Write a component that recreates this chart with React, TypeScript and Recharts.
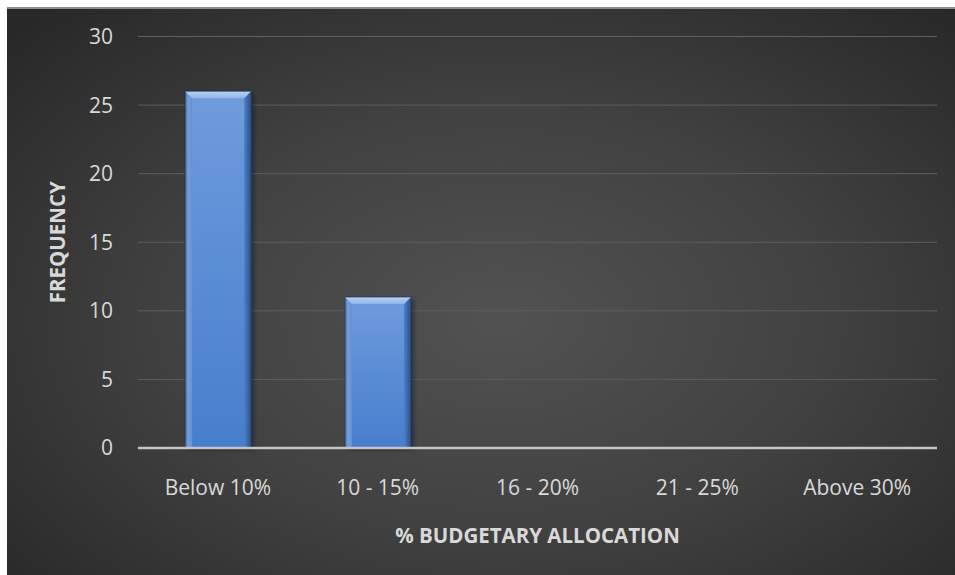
import React from "react";
import { BarChart, Bar, XAxis, YAxis, CartesianGrid } from "recharts";

const categories = ["Below 10%", "10 - 15%", "16 - 20%", "21 - 25%", "Above 30%"];
const frequency = [26, 11, 0, 0, 0];
const yTicks = [0, 5, 10, 15, 20, 25, 30];

const data = categories.map((c, i) => ({ category: c, frequency: frequency[i] }));

const FONT = "'Open Sans', sans-serif";
const TEXT = "#d9d9d9";

const BevelBar = (props: any) => {
  const { x, y, width, height } = props;
  if (!height || height <= 0) return null;
  const b = 7;
  return (
    <g>
      <rect x={x + 2} y={y + 2} width={width + 1} height={height} fill="rgba(0,0,0,0.35)" filter="url(#barShadow)" />
      <rect x={x} y={y} width={width} height={height} fill="url(#barBody)" />
      <polygon
        points={`${x},${y} ${x + b},${y + b} ${x + b},${y + height} ${x},${y + height}`}
        fill="url(#barLeft)"
      />
      <polygon
        points={`${x + width},${y} ${x + width - b},${y + b} ${x + width - b},${y + height} ${x + width},${y + height}`}
        fill="url(#barRight)"
      />
      <polygon
        points={`${x},${y} ${x + width},${y} ${x + width - b},${y + b} ${x + b},${y + b}`}
        fill="url(#barTop)"
      />
      <rect x={x} y={y} width={width} height={height} fill="none" stroke="rgba(30,50,90,0.6)" strokeWidth={1} />
    </g>
  );
};

export default function App() {
  return (
    <div
      style={{
        position: "absolute",
        left: 7,
        top: 7,
        width: 948,
        height: 568,
        background: "radial-gradient(ellipse 70% 75% at 52% 55%, #525252 0%, #414141 50%, #282828 100%)",
        borderTop: "2px solid #8c8c8c",
        boxSizing: "border-box",
        overflow: "hidden",
      }}
    >
      <BarChart
        width={948}
        height={566}
        data={data}
        margin={{ top: 27.5, right: 18, left: 0, bottom: 0 }}
        barCategoryGap="29.5%"
      >
        <defs>
          <linearGradient id="barBody" x1="0" y1="0" x2="0" y2="1">
            <stop offset="0%" stopColor="#6f9cdc" />
            <stop offset="100%" stopColor="#477ecd" />
          </linearGradient>
          <linearGradient id="barTop" x1="0" y1="0" x2="0" y2="1">
            <stop offset="0%" stopColor="#b8d2f4" />
            <stop offset="100%" stopColor="#8eb3e8" />
          </linearGradient>
          <linearGradient id="barLeft" x1="0" y1="0" x2="1" y2="0">
            <stop offset="0%" stopColor="#3f68a8" />
            <stop offset="40%" stopColor="#72a0dc" />
            <stop offset="100%" stopColor="#6391d6" />
          </linearGradient>
          <linearGradient id="barRight" x1="0" y1="0" x2="1" y2="0">
            <stop offset="0%" stopColor="#4d80c9" />
            <stop offset="100%" stopColor="#2e4f82" />
          </linearGradient>
          <filter id="barShadow" x="-20%" y="-20%" width="140%" height="140%">
            <feGaussianBlur stdDeviation="2" />
          </filter>
        </defs>
        <CartesianGrid vertical={false} stroke="#5e5e5e" strokeWidth={1} />
        <XAxis
          dataKey="category"
          height={127}
          axisLine={{ stroke: "#c4c4c4", strokeWidth: 2.5 }}
          tickLine={false}
          tickSize={0}
          tickMargin={32}
          tick={{ fill: TEXT, fontSize: 21, fontFamily: FONT }}
          interval={0}
          label={{
            value: "% BUDGETARY ALLOCATION",
            position: "center",
            dy: 24,
            fill: TEXT,
            fontSize: 20.5,
            fontWeight: 700,
            fontFamily: FONT,
          }}
        />
        <YAxis
          width={131}
          domain={[0, 30]}
          ticks={yTicks}
          axisLine={false}
          tickLine={false}
          tickSize={0}
          tickMargin={25}
          tick={{ fill: TEXT, fontSize: 21, fontFamily: FONT }}
          label={{
            value: "FREQUENCY",
            angle: -90,
            position: "center",
            dx: -14.5,
            fill: TEXT,
            fontSize: 20.5,
            fontWeight: 700,
            fontFamily: FONT,
          }}
        />
        <Bar dataKey="frequency" shape={<BevelBar />} isAnimationActive={false} />
      </BarChart>
    </div>
  );
}
